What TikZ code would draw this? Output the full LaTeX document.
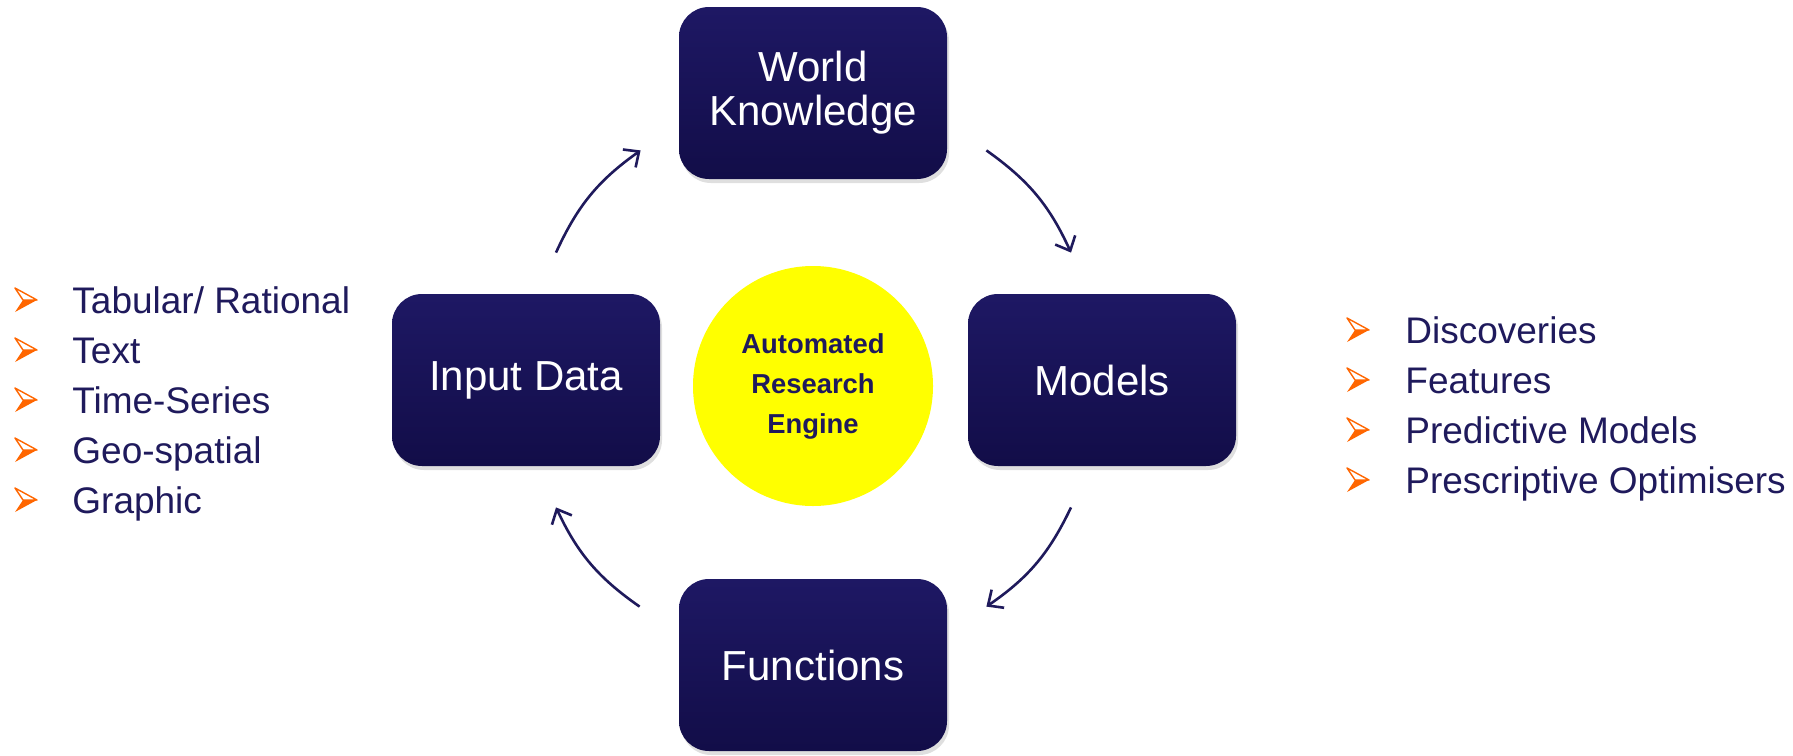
\documentclass[tikz,border=0pt]{standalone}
\usepackage{fontspec}
\setmainfont{Liberation Sans}
\usetikzlibrary{arrows.meta,shadows}

\definecolor{navy}{RGB}{31,26,92}
\definecolor{boxtop}{RGB}{30,24,100}
\definecolor{boxbot}{RGB}{18,13,72}
\definecolor{bulorange}{RGB}{255,102,0}
\definecolor{engineyellow}{RGB}{255,255,0}

\tikzset{
  block/.style={rounded corners=15pt, minimum width=134pt, minimum height=86pt,
    top color=boxtop, bottom color=boxbot, text=white, align=center,
    font=\fontsize{21}{22}\selectfont,
    drop shadow={opacity=0.25, shadow xshift=1pt, shadow yshift=-2pt}},
  item/.style={anchor=base west, inner sep=0pt, text=navy,
    font=\fontsize{18.5}{22}\selectfont},
  bul/.pic={
    \draw[bulorange, line width=0.7pt, line join=round] (-11,-12) -- (11,0) -- (-3,0) -- cycle;
    \fill[bulorange] (-11,12) -- (11,0) -- (-3,0) -- cycle;
  }
}

\begin{document}
\begin{tikzpicture}[x=0.5pt, y=-0.5pt, >={Straight Barb[length=6pt,width=11pt]}]
    \useasboundingbox (0,0) rectangle (1793,755);

    \node[block] (world)  at (813,93)  {World\\Knowledge};
    \node[block] (input)  at (526,380) {Input Data};
    \node[block] (models) at (1102,380) {Models};
    \node[block] (funcs)  at (813,665) {Functions};

    \node[circle, fill=engineyellow, minimum size=120pt, inner sep=0pt, text=navy, align=center,
        font=\bfseries\fontsize{13.7}{20}\selectfont] (engine) at (813,386) {Automated\\Research\\Engine};

    % cycle arrows
    \draw[->, navy, line width=1.3pt] ([shift={(30,-41)}]input.north) to [bend left=15] ([shift={(-38,-29)}]world.south west);
    \draw[->, navy, line width=1.3pt] ([shift={(39,-29)}]world.south east) to [bend left=15] ([shift={(-31,-41)}]models.north);
    \draw[->, navy, line width=1.3pt] ([shift={(-31,41)}]models.south) to [bend left=15] ([shift={(39,28)}]funcs.north east);
    \draw[->, navy, line width=1.3pt] ([shift={(-39,28)}]funcs.north west) to [bend left=15] ([shift={(30,41)}]input.south);

    % input kinds
    \foreach \txt [count=\i] in {Tabular/ Rational, Text, Time-Series, Geo-spatial, Graphic} {
        \node[item] (in\i) at (72, 263+50*\i) {\txt};
        \pic at (26, 250+50*\i) {bul};
    }

    % outputs
    \foreach \txt [count=\i] in {Discoveries, Features, Predictive Models, Prescriptive Optimisers} {
        \node[item] (out\i) at (1405, 293+50*\i) {\txt};
        \pic at (1358, 280+50*\i) {bul};
    }
\end{tikzpicture}
\end{document}
